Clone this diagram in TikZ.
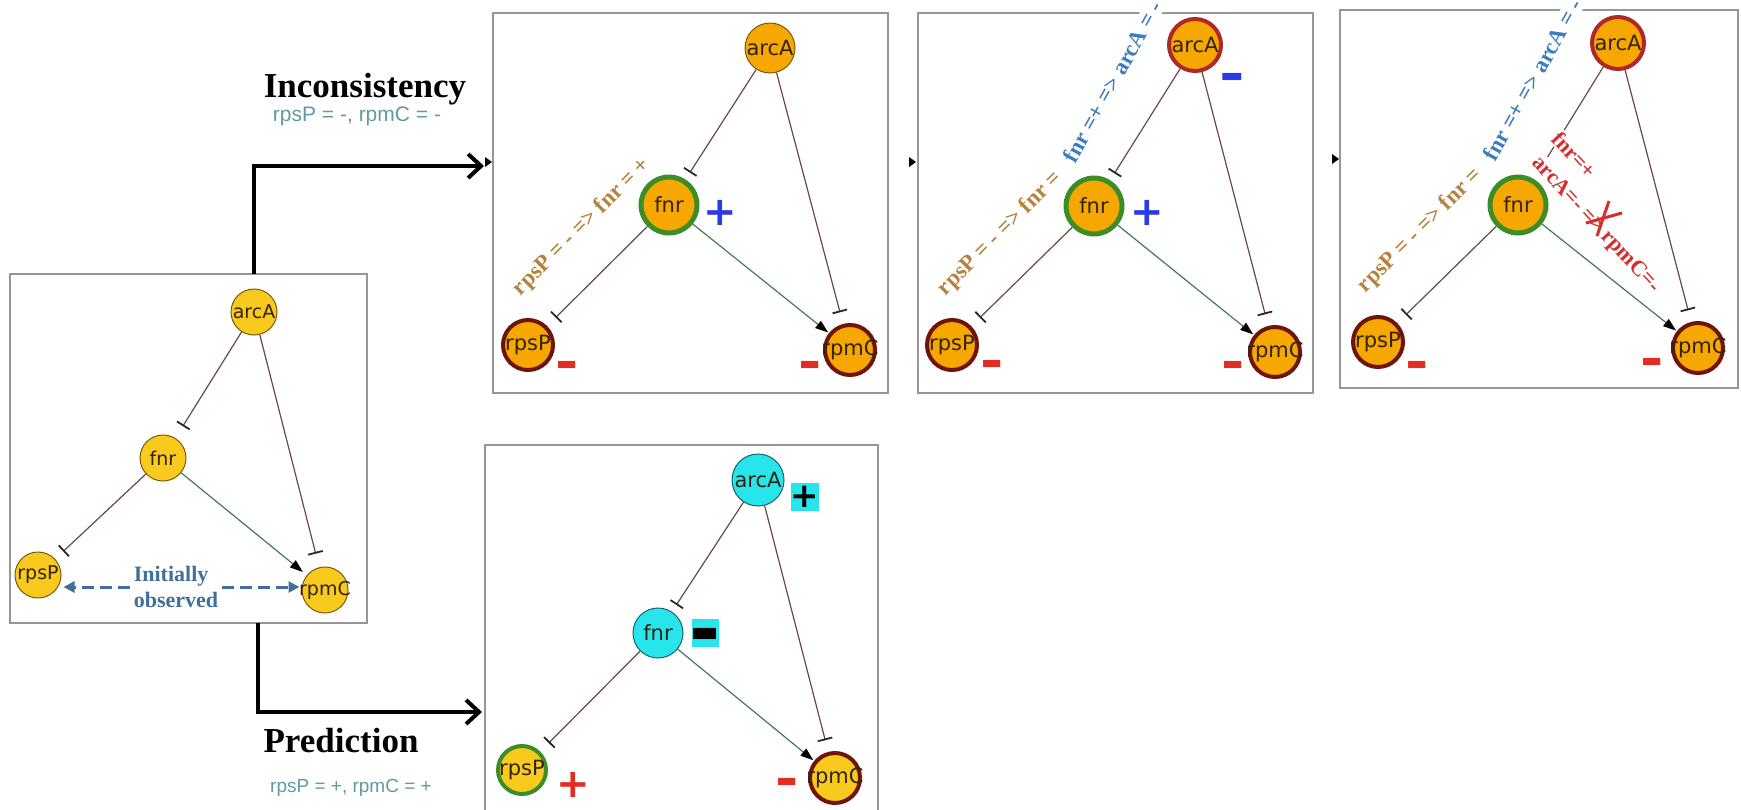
\documentclass[tikz,border=0pt]{standalone}
\usepackage{fontspec}
\usepackage{graphicx}
\setmainfont{Liberation Serif}
\newfontfamily\labfont{DejaVu Sans}
\newfontfamily\capsans{Liberation Sans}
\newfontfamily\signfont{DejaVu Sans}
\usetikzlibrary{arrows.meta,calc}
\definecolor{goldfill}{RGB}{249,202,30}
\definecolor{goldline}{RGB}{120,90,10}
\definecolor{orangefill}{RGB}{247,168,0}
\definecolor{ringgreen}{RGB}{60,140,40}
\definecolor{ringdark}{RGB}{110,20,10}
\definecolor{ringred}{RGB}{175,40,40}
\definecolor{cyanfill}{RGB}{40,228,235}
\definecolor{cyanline}{RGB}{20,100,110}
\definecolor{inhcol}{RGB}{110,70,70}
\definecolor{actcol}{RGB}{70,120,90}
\definecolor{barcol}{RGB}{40,40,40}
\definecolor{labcol}{RGB}{50,35,15}
\definecolor{browntext}{RGB}{180,130,60}
\definecolor{bluetext}{RGB}{60,125,190}
\definecolor{redtext}{RGB}{215,45,45}
\definecolor{signblue}{RGB}{40,60,230}
\definecolor{signred}{RGB}{225,45,35}
\definecolor{capteal}{RGB}{95,155,160}
\definecolor{obsblue}{RGB}{65,110,155}
\definecolor{boxgray}{RGB}{150,150,150}
\begin{document}
\begin{tikzpicture}[x=1pt,y=-1pt,
  boxst/.style={draw=boxgray,line width=1.4pt},
  gnode/.style={circle,inner sep=0pt,minimum size=46pt,fill=goldfill,draw=goldline,line width=1pt,text=labcol,font=\labfont\fontsize{19}{19}\selectfont},
  pnode/.style={circle,inner sep=0pt,fill=orangefill,draw=goldline,line width=1pt,text=labcol,font=\labfont\fontsize{21}{21}\selectfont,minimum size=50pt},
  greenring/.style={draw=ringgreen,line width=5pt,minimum size=56pt},
  darkring/.style={draw=ringdark,line width=4pt,minimum size=50pt},
  redring/.style={draw=ringred,line width=4pt,minimum size=52pt},
  cnode/.style={pnode,fill=cyanfill,draw=cyanline},
  ynode/.style={pnode,fill=goldfill},
  inh/.style={draw=inhcol,line width=1.2pt,-{Bar[width=15pt,line width=1.8pt,color=barcol]},shorten >=10pt},
  act/.style={draw=actcol,line width=1.2pt,-{Triangle[length=13pt,width=9pt,color=black]},shorten >=1pt},
  bigarrow/.style={draw=black,line width=4pt,-{Straight Barb[length=13pt,width=24pt]}},
  obsarrow/.style={draw=obsblue,line width=3pt,dash pattern=on 12pt off 6pt,-{Triangle[length=11pt,width=11pt]}},
  btxt/.style={text=browntext,font=\bfseries\fontsize{23}{23}\selectfont,inner sep=1pt,anchor=base west,rotate=45},
  bltxt/.style={text=bluetext,font=\bfseries\fontsize{23}{23}\selectfont,fill=white,inner sep=1.5pt,anchor=base west,rotate=61},
  rtxt/.style={text=redtext,font=\bfseries\fontsize{22}{22}\selectfont,fill=white,inner sep=1.5pt,anchor=base west,rotate=-47},
  sgn/.style={inner sep=0pt,font=\signfont\bfseries\fontsize{40}{40}\selectfont},
  msgn/.style={inner sep=0pt,font=\signfont\bfseries\fontsize{28}{28}\selectfont},
  cbox/.style={fill=cyanfill,inner sep=0pt,minimum width=27pt,minimum height=28pt,text=black,font=\signfont\bfseries\fontsize{34}{34}\selectfont},
  titlest/.style={font=\bfseries\fontsize{35}{35}\selectfont,text=black,anchor=base,inner sep=0pt},
  subst/.style={font=\capsans\fontsize{21}{21}\selectfont,text=capteal,anchor=base,inner sep=0pt}
]
\useasboundingbox (0,0) rectangle (1741,809);

% ---------------- left box ----------------
\draw[boxst] (10,274) rectangle (367,623);
\node[gnode] (LarcA) at (254,312) {\makebox[0pt]{arcA}};
\node[gnode] (Lfnr) at (163,458) {\makebox[0pt]{fnr}};
\node[gnode] (LrpsP) at (38,575) {\makebox[0pt]{rpsP}};
\node[gnode] (LrpmC) at (325,590) {\makebox[0pt]{rpmC}};
\draw[inh,shorten >=14pt] (LarcA) -- (Lfnr);
\draw[inh,shorten >=14pt] (LarcA) -- (LrpmC);
\draw[inh,shorten >=11pt] (Lfnr) -- (LrpsP);
\draw[act,shorten >=5pt] (Lfnr) -- (LrpmC);
\node[text=obsblue,font=\bfseries\fontsize{22}{26}\selectfont,align=left,inner sep=4pt] (Lobs) at (176,587) {Initially\\observed};
\draw[obsarrow] (Lobs.west) -- ([xshift=2pt]Lobs.west -| LrpsP.east);
\draw[obsarrow] (Lobs.east) -- ([xshift=-2pt]Lobs.east -| LrpmC.west);

% ---------------- big arrows ----------------
\coordinate (Ltop) at (254,274);
\coordinate (Lturn1) at (254,166);
\coordinate (P1in) at (484,166);
\draw[bigarrow] (Ltop) -- (Lturn1) -- (P1in);
\coordinate (Lbot) at (258,623);
\coordinate (Lturn2) at (258,712);
\coordinate (PRin) at (482,712);
\draw[bigarrow] (Lbot) -- (Lturn2) -- (PRin);
\node[titlest] (tInc) at (365,97) {Inconsistency};
\node[subst] (sInc) at (357,121) {rpsP = -, rpmC = -};
\node[titlest] (tPred) at (341,752) {Prediction};
\node[subst,font=\capsans\fontsize{19}{19}\selectfont] (sPred) at (351,792) {rpsP = +, rpmC = +};

% small arrow tips at panel edges
\fill (485,157) -- (492,162) -- (485,167) -- cycle;
\fill (909,157) -- (916,162) -- (909,167) -- cycle;
\fill (1332,154) -- (1339,159) -- (1332,164) -- cycle;

% ---------------- panel 1 ----------------
\draw[boxst] (493,13) rectangle (888,393);
\node[pnode] (AarcA) at (770,48) {\makebox[0pt]{arcA}};
\node[pnode,greenring] (Afnr) at (669,205) {\makebox[0pt]{fnr}};
\node[pnode,darkring] (ArpsP) at (528,345) {\makebox[0pt]{rpsP}};
\node[pnode,darkring] (ArpmC) at (850,350) {\makebox[0pt]{rpmC}};
\draw[inh,shorten >=8pt] (AarcA) -- (Afnr);
\draw[inh,shorten >=12pt] (AarcA) -- (ArpmC);
\draw[inh,shorten >=12pt] (Afnr) -- (ArpsP);
\draw[act] (Afnr) -- (ArpmC);
\node[sgn,text=signblue] (Aplus) at (720,213) {+};
\node[msgn,text=signred] (Am1) at (567,370) {\scalebox{2}[1.8]{-}};
\node[msgn,text=signred] (Am2) at (810,370) {\scalebox{2}[1.8]{-}};
\node[btxt] (Atx) at (520,297) {rpsP = - => fnr = +};

% ---------------- panel 2 ----------------
\draw[boxst] (918,13) rectangle (1313,393);
\node[pnode,redring] (BarcA) at (1195,45) {\makebox[0pt]{arcA}};
\node[pnode,greenring] (Bfnr) at (1094,206) {\makebox[0pt]{fnr}};
\node[pnode,darkring] (BrpsP) at (952,345) {\makebox[0pt]{rpsP}};
\node[pnode,darkring] (BrpmC) at (1275,352) {\makebox[0pt]{rpmC}};
\draw[inh,shorten >=8pt] (BarcA) -- (Bfnr);
\draw[inh,shorten >=12pt] (BarcA) -- (BrpmC);
\draw[inh,shorten >=12pt] (Bfnr) -- (BrpsP);
\draw[act] (Bfnr) -- (BrpmC);
\node[sgn,text=signblue] (Bplus) at (1147,213) {+};
\node[msgn,text=signblue] (Bm0) at (1232,82) {\scalebox{2.2}[1.8]{-}};
\node[msgn,text=signred] (Bm1) at (992,369) {\scalebox{2}[1.8]{-}};
\node[msgn,text=signred] (Bm2) at (1233,370) {\scalebox{2}[1.8]{-}};
\node[btxt] (Btx1) at (945,297) {rpsP = - => fnr =};
\node[bltxt] (Btx2) at (1075,166) {fnr =+ => arcA = -};

% ---------------- panel 3 ----------------
\draw[boxst] (1340,10) rectangle (1738,388);
\node[pnode,redring] (CarcA) at (1618,43) {\makebox[0pt]{arcA}};
\node[pnode,greenring] (Cfnr) at (1518,205) {\makebox[0pt]{fnr}};
\node[pnode,darkring] (CrpsP) at (1378,342) {\makebox[0pt]{rpsP}};
\node[pnode,darkring] (CrpmC) at (1698,348) {\makebox[0pt]{rpmC}};
\draw[inh,shorten >=8pt] (CarcA) -- (Cfnr);
\draw[inh,shorten >=12pt] (CarcA) -- (CrpmC);
\draw[inh,shorten >=12pt] (Cfnr) -- (CrpsP);
\draw[act] (Cfnr) -- (CrpmC);
\node[msgn,text=signred] (Cm1) at (1417,370) {\scalebox{2}[1.8]{-}};
\node[msgn,text=signred] (Cm2) at (1652,367) {\scalebox{2}[1.8]{-}};
\node[btxt] (Ctx1) at (1365,294) {rpsP = - => fnr =};
\node[bltxt] (Ctx2) at (1495,164) {fnr =+ => arcA = -};
\node[rtxt] (Ctx3) at (1549,139) {fnr=+};
\node[rtxt] (Ctx4) at (1530,162) {arcA=- => rpmC=-};
\coordinate (XaTop) at (1609,201);
\coordinate (XaBot) at (1597,236);
\coordinate (XbL) at (1586,223);
\coordinate (XbR) at (1622,213);
\draw[draw=redtext,line width=3pt] (XaTop) -- (XaBot);
\draw[draw=redtext,line width=3pt] (XbL) -- (XbR);

% ---------------- prediction panel ----------------
\draw[boxst] (485,812) -- (485,445) -- (878,445) -- (878,812);
\node[cnode,minimum size=52pt] (DarcA) at (758,480) {\makebox[0pt]{arcA}};
\node[cnode] (Dfnr) at (658,633) {\makebox[0pt]{fnr}};
\node[ynode,draw=ringgreen,line width=4pt,minimum size=48pt] (DrpsP) at (522,770) {\makebox[0pt]{rpsP}};
\node[ynode,darkring] (DrpmC) at (835,778) {\makebox[0pt]{rpmC}};
\draw[inh,shorten >=8pt] (DarcA) -- (Dfnr);
\draw[inh,shorten >=12pt] (DarcA) -- (DrpmC);
\draw[inh,shorten >=12pt] (Dfnr) -- (DrpsP);
\draw[act] (Dfnr) -- (DrpmC);
\node[cbox] (Dplus) at (805,497) {+};
\node[cbox] (Dminus) at (705,633) {\makebox[0pt]{\raisebox{-23pt}[0pt][0pt]{\scalebox{2.2}[2.3]{-}}}};
\node[sgn,text=signred] (Dp) at (573,785) {+};
\node[msgn,text=signred] (Dm) at (787,787) {\scalebox{2}[1.8]{-}};
\end{tikzpicture}
\end{document}
